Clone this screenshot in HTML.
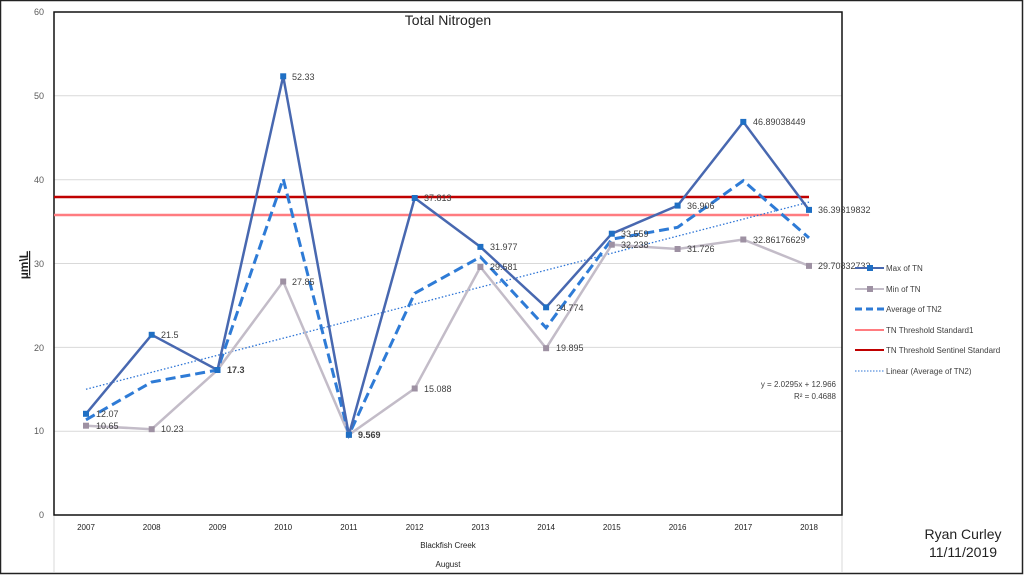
<!DOCTYPE html>
<html><head><meta charset="utf-8"><style>
html,body{margin:0;padding:0;background:#fff}
svg{display:block;font-family:"Liberation Sans",sans-serif}
</style></head><body>
<svg width="1024" height="576" viewBox="0 0 1024 576">
<rect x="0.5" y="0.5" width="1022" height="573" fill="#fff" stroke="#222" stroke-width="1.5"/>
<g stroke="#d9d9d9" stroke-width="1">
<line x1="54" y1="431.2" x2="842" y2="431.2"/><line x1="54" y1="347.4" x2="842" y2="347.4"/>
<line x1="54" y1="263.5" x2="842" y2="263.5"/><line x1="54" y1="179.7" x2="842" y2="179.7"/>
<line x1="54" y1="95.8" x2="842" y2="95.8"/>
<line x1="54" y1="515" x2="54" y2="572"/>
<line x1="842" y1="515" x2="842" y2="572"/>
</g>
<rect x="54" y="12" width="788" height="503" fill="none" stroke="#111" stroke-width="1.5"/>
<g font-size="9" fill="#595959" text-anchor="end">
<text x="44" y="15">60</text><text x="44" y="99">50</text><text x="44" y="183">40</text>
<text x="44" y="267">30</text><text x="44" y="351">20</text><text x="44" y="434">10</text><text x="44" y="518">0</text>
</g>
<text x="28" y="265" font-size="12" font-weight="bold" fill="#222" text-anchor="middle" transform="rotate(-90 28 265)" text-decoration="underline">µm\L</text>
<text x="448" y="25" font-size="14" fill="#222" text-anchor="middle">Total Nitrogen</text>
<g font-size="8" fill="#222" text-anchor="middle">
<text x="86" y="530">2007</text><text x="151.7" y="530">2008</text><text x="217.5" y="530">2009</text><text x="283.2" y="530">2010</text><text x="348.9" y="530">2011</text><text x="414.7" y="530">2012</text><text x="480.4" y="530">2013</text><text x="546.1" y="530">2014</text><text x="611.8" y="530">2015</text><text x="677.6" y="530">2016</text><text x="743.3" y="530">2017</text><text x="809" y="530">2018</text>
<text x="448" y="548">Blackfish Creek</text><text x="448" y="567">August</text>
</g>
<line x1="54" y1="215" x2="809" y2="215" stroke="#ff7c80" stroke-width="2.5"/>
<line x1="54" y1="197" x2="809" y2="197" stroke="#c00000" stroke-width="2.5"/>
<line x1="86" y1="389.3" x2="809" y2="202.1" stroke="#2e75d6" stroke-width="1.3" stroke-dasharray="1.5,2"/>
<polyline fill="none" stroke="#c3bcc8" stroke-width="2.5" points="86,425.7 151.7,429.2 217.5,370 283.2,281.5 348.9,434.8 414.7,388.5 480.4,267 546.1,348.2 611.8,244.7 677.6,249 743.3,239.5 809,265.9"/>
<polyline fill="none" stroke="#2e7bd6" stroke-width="3" stroke-dasharray="10,5" points="86,419.8 151.7,382 217.5,370 283.2,178.9 348.9,434.8 414.7,293.3 480.4,257 546.1,327.8 611.8,239.2 677.6,227.3 743.3,180.7 809,237.9"/>
<polyline fill="none" stroke="#4868b0" stroke-width="2.5" points="86,413.8 151.7,334.8 217.5,370 283.2,76.3 348.9,434.8 414.7,198 480.4,246.9 546.1,307.3 611.8,233.7 677.6,205.6 743.3,121.9 809,209.9"/>
<g fill="#9e91a3">
<rect x="83" y="422.7" width="6" height="6"/><rect x="148.7" y="426.2" width="6" height="6"/><rect x="214.5" y="367" width="6" height="6"/><rect x="280.2" y="278.5" width="6" height="6"/><rect x="345.9" y="431.8" width="6" height="6"/><rect x="411.7" y="385.5" width="6" height="6"/><rect x="477.4" y="264" width="6" height="6"/><rect x="543.1" y="345.2" width="6" height="6"/><rect x="608.8" y="241.7" width="6" height="6"/><rect x="674.6" y="246" width="6" height="6"/><rect x="740.3" y="236.5" width="6" height="6"/><rect x="806" y="262.9" width="6" height="6"/>
</g>
<g fill="#1f6fc4">
<rect x="83" y="410.8" width="6" height="6"/><rect x="148.7" y="331.8" width="6" height="6"/><rect x="214.5" y="367" width="6" height="6"/><rect x="280.2" y="73.3" width="6" height="6"/><rect x="345.9" y="431.8" width="6" height="6"/><rect x="411.7" y="195" width="6" height="6"/><rect x="477.4" y="243.9" width="6" height="6"/><rect x="543.1" y="304.3" width="6" height="6"/><rect x="608.8" y="230.7" width="6" height="6"/><rect x="674.6" y="202.6" width="6" height="6"/><rect x="740.3" y="118.9" width="6" height="6"/><rect x="806" y="206.9" width="6" height="6"/>
</g>
<g font-size="9" fill="#404040">
<text x="96" y="417">12.07</text><text x="161" y="338">21.5</text><text x="227" y="373" font-weight="bold">17.3</text><text x="292" y="80">52.33</text><text x="358" y="438" font-weight="bold">9.569</text><text x="424" y="201">37.813</text><text x="490" y="250">31.977</text><text x="556" y="311">24.774</text><text x="621" y="237">33.559</text><text x="687" y="209">36.906</text><text x="753" y="125">46.89038449</text><text x="818" y="213">36.39319832</text>
<text x="96" y="429">10.65</text><text x="161" y="432">10.23</text><text x="292" y="285">27.85</text><text x="424" y="392">15.088</text><text x="490" y="270">29.581</text><text x="556" y="351">19.895</text><text x="621" y="248">32.238</text><text x="687" y="252">31.726</text><text x="753" y="243">32.86176629</text><text x="818" y="269">29.70832733</text>
</g>
<g font-size="8" fill="#404040" text-anchor="end">
<text x="836" y="387">y = 2.0295x + 12.966</text><text x="836" y="399">R² = 0.4688</text>
</g>
<g font-size="8" fill="#404040">
<line x1="855" y1="268" x2="884" y2="268" stroke="#4868b0" stroke-width="2"/><rect x="867" y="265" width="6" height="6" fill="#1f6fc4"/><text x="886" y="271">Max of TN</text>
<line x1="855" y1="289" x2="884" y2="289" stroke="#c3bcc8" stroke-width="2"/><rect x="867" y="286" width="6" height="6" fill="#9e91a3"/><text x="886" y="292">Min of TN</text>
<line x1="855" y1="309" x2="884" y2="309" stroke="#2e7bd6" stroke-width="3" stroke-dasharray="7,4"/><text x="886" y="312">Average of TN2</text>
<line x1="855" y1="330" x2="884" y2="330" stroke="#ff7c80" stroke-width="2"/><text x="886" y="333">TN Threshold Standard1</text>
<line x1="855" y1="350" x2="884" y2="350" stroke="#c00000" stroke-width="2"/><text x="886" y="353">TN Threshold Sentinel Standard</text>
<line x1="855" y1="371" x2="884" y2="371" stroke="#2e75d6" stroke-width="1" stroke-dasharray="1.5,1.5"/><text x="886" y="374">Linear (Average of TN2)</text>
</g>
<g font-size="14" fill="#222" text-anchor="middle">
<text x="963" y="539">Ryan Curley</text><text x="963" y="557">11/11/2019</text>
</g>
</svg>
</body></html>
